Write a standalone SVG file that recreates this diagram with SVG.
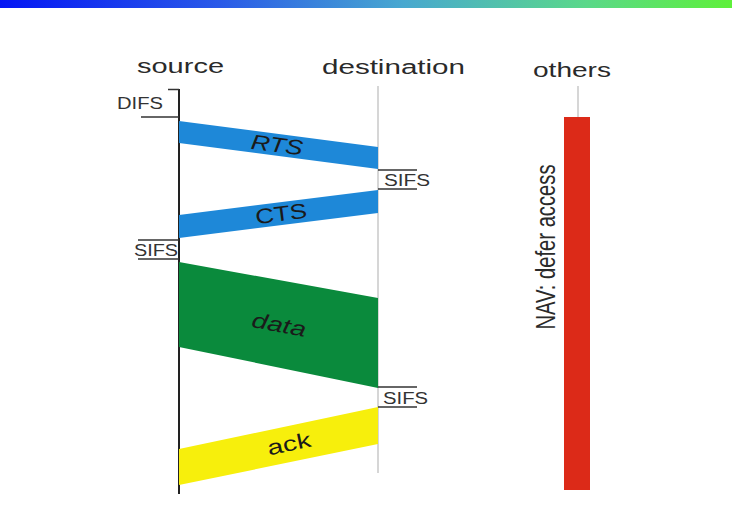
<svg xmlns="http://www.w3.org/2000/svg" width="732" height="513" viewBox="0 0 732 513">
<defs>
<linearGradient id="topbar" x1="0" y1="0" x2="1" y2="0">
<stop offset="0" stop-color="#0416f4"/>
<stop offset="0.3" stop-color="#2a5ae8"/>
<stop offset="0.55" stop-color="#48a8d0"/>
<stop offset="0.8" stop-color="#5ad88a"/>
<stop offset="1" stop-color="#5ef03a"/>
</linearGradient>
</defs>
<style>
.hdr{font-family:"Liberation Sans",Arial,sans-serif;font-size:20px;fill:#2a2a2a}
.ifs{font-family:"Liberation Sans",Arial,sans-serif;font-size:16px;fill:#333}
.lbl{font-family:"Liberation Sans",Arial,sans-serif;font-size:21px;fill:#1a1a1a;text-anchor:middle}
.tick{stroke:#333;stroke-width:1.5;fill:none}
.life{stroke:#bbb;stroke-width:1.2;fill:none}
</style>
<rect x="0" y="0" width="732" height="513" fill="#fff"/>
<rect x="0" y="0" width="732" height="8" fill="url(#topbar)"/>

<g id="headers">
<text class="hdr" x="137" y="73" textLength="87" lengthAdjust="spacingAndGlyphs">source</text>
<text class="hdr" x="322" y="74" textLength="143" lengthAdjust="spacingAndGlyphs">destination</text>
<text class="hdr" x="533" y="77" textLength="78" lengthAdjust="spacingAndGlyphs">others</text>
</g>

<g id="lifelines">
<line x1="179" y1="89" x2="179" y2="494" stroke="#222" stroke-width="2"/>
<line class="life" x1="378" y1="86" x2="378" y2="473"/>
<line class="life" x1="578" y1="86" x2="578" y2="117"/>
</g>

<g id="difs">
<line class="tick" x1="168" y1="89.5" x2="179" y2="89.5"/>
<line class="tick" x1="141" y1="117" x2="179" y2="117"/>
<text class="ifs" x="117" y="109" textLength="46" lengthAdjust="spacingAndGlyphs">DIFS</text>
</g>

<g id="sifs1">
<line class="tick" x1="378" y1="170" x2="417" y2="170"/>
<line class="tick" x1="378" y1="189" x2="417" y2="189"/>
<text class="ifs" x="384" y="186" textLength="46" lengthAdjust="spacingAndGlyphs">SIFS</text>
</g>

<g id="sifs2">
<line class="tick" x1="138" y1="240" x2="179" y2="240"/>
<line class="tick" x1="138" y1="259" x2="179" y2="259"/>
<text class="ifs" x="134" y="256" textLength="44" lengthAdjust="spacingAndGlyphs">SIFS</text>
</g>

<g id="sifs3">
<line class="tick" x1="378" y1="387" x2="417" y2="387"/>
<line class="tick" x1="378" y1="407" x2="417" y2="407"/>
<text class="ifs" x="383" y="404" textLength="45" lengthAdjust="spacingAndGlyphs">SIFS</text>
</g>

<g id="rts">
<polygon points="179,121 378,147 378,169 179,143" fill="#1e88d8"/>
<text class="lbl" x="277" y="152" font-style="italic" transform="rotate(7.3 277 145)" textLength="52" lengthAdjust="spacingAndGlyphs">RTS</text>
</g>

<g id="cts">
<polygon points="179,215 378,190 378,213 179,238" fill="#1e88d8"/>
<text class="lbl" x="281" y="221" transform="rotate(-7.2 281 213)" textLength="52" lengthAdjust="spacingAndGlyphs">CTS</text>
</g>

<g id="data">
<polygon points="179,262 378,298 378,388 179,347" fill="#0a8a3c"/>
<text class="lbl" x="279" y="332" font-style="italic" transform="rotate(10.5 279 325)" textLength="55" lengthAdjust="spacingAndGlyphs">data</text>
</g>

<g id="ack">
<polygon points="179,449 378,407 378,444 179,485" fill="#f7ef0c"/>
<text class="lbl" x="289" y="451" transform="rotate(-12 289 444)" textLength="44" lengthAdjust="spacingAndGlyphs">ack</text>
</g>

<g id="nav">
<rect x="564" y="117" width="26" height="373" fill="#dc2a18"/>
<text x="0" y="0" transform="translate(555 247) rotate(-90)" font-family="'Liberation Sans',Arial,sans-serif" font-size="27" fill="#2a2a2a" text-anchor="middle" textLength="165" lengthAdjust="spacingAndGlyphs">NAV: defer access</text>
</g>
</svg>
